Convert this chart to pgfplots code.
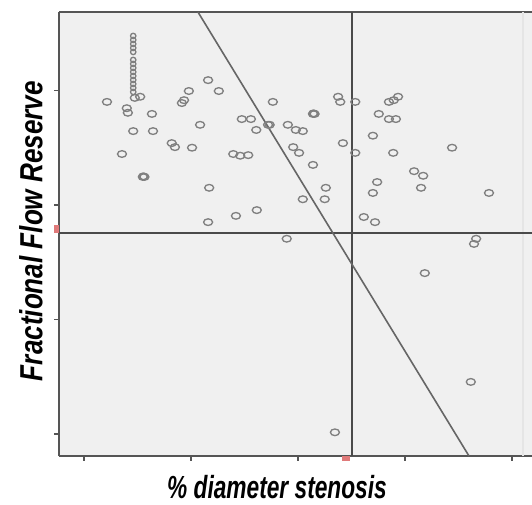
\documentclass[border=0pt]{standalone}
\usepackage{fontspec}
\setmainfont{Liberation Sans}
\usepackage{graphicx}
\usepackage{pgfplots}
\pgfplotsset{compat=1.18}
\definecolor{bggray}{HTML}{F0F0F0}
\definecolor{axgray}{HTML}{555555}
\definecolor{refgray}{HTML}{4A4A4A}
\definecolor{markgray}{HTML}{808080}
\definecolor{redtick}{HTML}{E07A7A}
\begin{document}
\begin{tikzpicture}
\begin{axis}[
  name=ax,
  at={(0,0)}, anchor=south west,
  scale only axis,
  width=354.75pt, height=333pt,
  xmin=15.33, xmax=103.74,
  ymin=0.3616, ymax=1.137,
  axis background/.style={fill=bggray},
  separate axis lines,
  axis x line*=box,
  axis y line*=left,
  x axis line style={draw=axgray, line width=1.4pt},
  y axis line style={draw=axgray, line width=1.6pt},
  xtick={20,40,60,80,100},
  ytick={0.4,0.6,0.8,1.0},
  xticklabels={}, yticklabels={},
  xtick pos=bottom, ytick pos=left,
  tick align=outside,
  major tick length=3.5pt,
  tick style={draw=axgray, line width=1.2pt},
  extra x ticks={68.9}, extra x tick labels={},
  extra y ticks={0.758}, extra y tick labels={},
  extra tick style={major tick length=3.5pt, tick style={draw=redtick, line width=6pt}},
  clip=true,
]
% faint right edge of plot area
\addplot[draw=black!10, line width=0.8pt] coordinates {(102.06,0.3616) (102.06,1.137)};
% reference lines
\addplot[draw=refgray, line width=1.6pt] coordinates {(70.1,0.3616) (70.1,1.137)};
\addplot[draw=refgray, line width=1.6pt] coordinates {(15.33,0.751) (103.74,0.751)};
% fit line
\addplot[draw=black!60, line width=1.2pt] coordinates {(41.3,1.137) (91.96,0.3616)};
% data points
\addplot[only marks, mark=o, mark size=2.5pt,
  mark options={xscale=1.35, draw=markgray, line width=1pt, fill=none}]
table[row sep=\\] {
x y\\
24.3 0.980\\ 28.0 0.969\\ 28.2 0.961\\ 29.5 0.987\\ 30.5 0.989\\
32.7 0.959\\ 29.2 0.929\\ 32.9 0.929\\ 27.1 0.889\\ 31.0 0.849\\
31.3 0.849\\ 31.1 0.850\\ 36.4 0.908\\ 37.0 0.901\\ 40.2 0.900\\
38.3 0.978\\ 38.7 0.983\\ 39.6 0.999\\ 43.2 1.018\\ 45.2 0.999\\
41.7 0.940\\ 49.5 0.950\\ 51.2 0.950\\ 52.2 0.931\\ 47.9 0.889\\
49.2 0.886\\ 50.7 0.887\\ 43.4 0.830\\ 43.2 0.770\\ 48.4 0.781\\
52.3 0.791\\ 55.3 0.980\\ 62.8 0.959\\ 63.1 0.959\\ 62.9 0.960\\
67.5 0.989\\ 67.9 0.980\\ 70.7 0.980\\ 54.4 0.940\\ 54.7 0.940\\
58.1 0.940\\ 59.6 0.931\\ 60.9 0.929\\ 59.1 0.901\\ 60.2 0.891\\
62.8 0.870\\ 68.4 0.908\\ 70.7 0.891\\ 65.2 0.830\\ 60.9 0.810\\
65.0 0.810\\ 75.1 0.959\\ 77.0 0.980\\ 77.9 0.983\\ 78.7 0.989\\
77.0 0.950\\ 78.3 0.950\\ 74.0 0.921\\ 77.8 0.891\\ 88.8 0.900\\
81.7 0.859\\ 83.4 0.851\\ 83.0 0.830\\ 74.8 0.840\\ 74.0 0.821\\
95.7 0.821\\ 72.3 0.779\\ 74.4 0.770\\ 57.9 0.741\\ 93.3 0.741\\
92.9 0.732\\ 83.7 0.681\\ 92.3 0.491\\ 66.9 0.403\\
};
% dense column of overlapping points
\addplot[only marks, mark=o, mark size=2pt,
  mark options={draw=markgray, line width=1pt, fill=none}]
table[row sep=\\] {
x y\\
29.2 1.0952\\ 29.2 1.0882\\ 29.2 1.0812\\ 29.2 1.0742\\ 29.2 1.0672\\
29.2 1.0533\\ 29.2 1.0463\\ 29.2 1.0393\\ 29.2 1.0323\\ 29.2 1.0253\\
29.2 1.0183\\ 29.2 1.0113\\ 29.2 1.0044\\ 29.2 0.9974\\
};
\end{axis}
\node[anchor=base, inner sep=0pt] at (163.5pt,-31.5pt)
  {\scalebox{0.71}[1]{\fontsize{24}{28}\selectfont\bfseries\itshape \% diameter stenosis}};
\node[rotate=90, inner sep=0pt] at (-21pt,168.75pt)
  {\scalebox{0.815}[1]{\fontsize{24}{28}\selectfont\bfseries\itshape Fractional Flow Reserve}};
\pgfresetboundingbox
\path (-44.25pt,-36pt) rectangle (354.75pt,342pt);
\end{tikzpicture}
\end{document}
